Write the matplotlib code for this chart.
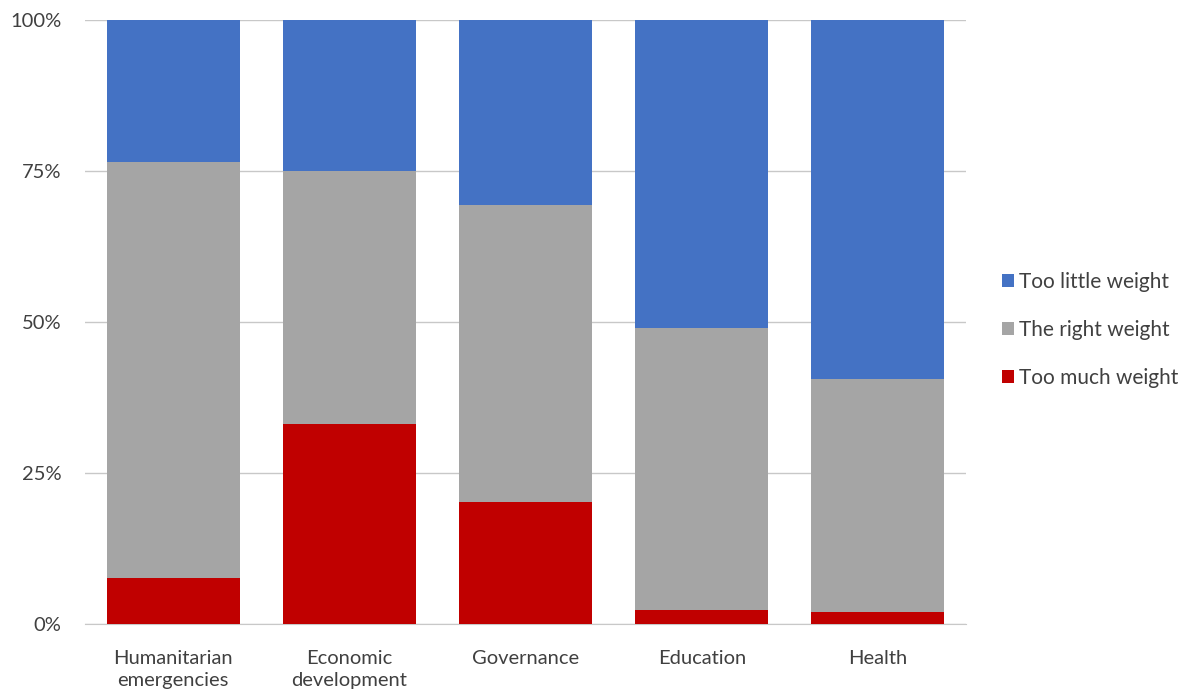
import matplotlib.pyplot as plt
import numpy as np
from matplotlib.ticker import PercentFormatter

categories = ['Humanitarian\nemergencies', 'Economic\ndevelopment', 'Governance', 'Education', 'Health']
too_much = [7.6, 33.1, 20.2, 2.3, 2.0]
right = [68.9, 41.9, 49.2, 46.7, 38.6]
too_little = [23.5, 25.0, 30.6, 51.0, 59.4]

plt.rcParams['font.family'] = ['Lato', 'DejaVu Sans']

fig = plt.figure(figsize=(12, 6.93), dpi=100)
ax = fig.add_axes([0.071, 0.0996, 0.734, 0.8714])

x = np.arange(len(categories))
w = 0.755
b1 = ax.bar(x, too_much, w, color='#C00000', label='Too much weight', zorder=3)
b2 = ax.bar(x, right, w, bottom=too_much, color='#A5A5A5', label='The right weight', zorder=3)
bottom3 = np.array(too_much) + np.array(right)
b3 = ax.bar(x, too_little, w, bottom=bottom3, color='#4472C4', label='Too little weight', zorder=3)

ax.set_xlim(-0.5, len(categories) - 0.5)
ax.set_ylim(0, 100)
ax.set_yticks([0, 25, 50, 75, 100])
ax.yaxis.set_major_formatter(PercentFormatter(decimals=0))
ax.set_xticks(x)
ax.set_xticklabels(categories, fontsize=14.5, color='#404040', linespacing=1.35)
ax.tick_params(axis='y', labelsize=14.5, labelcolor='#404040', length=0, pad=17)
ax.tick_params(axis='x', length=0, pad=19)
ax.grid(axis='y', color='#c8c8c8', linewidth=1, zorder=0)
for s in ['top', 'right', 'left']:
    ax.spines[s].set_visible(False)
ax.spines['bottom'].set_color('#c8c8c8')

ax.legend([b3, b2, b1], ['Too little weight', 'The right weight', 'Too much weight'],
          loc='center left', bbox_to_anchor=(1.02, 0.487), frameon=False,
          fontsize=15, handlelength=0.55, handleheight=0.55, handletextpad=0.25,
          labelspacing=1.35, labelcolor='#404040')

fig.savefig('out.png', dpi=100)
